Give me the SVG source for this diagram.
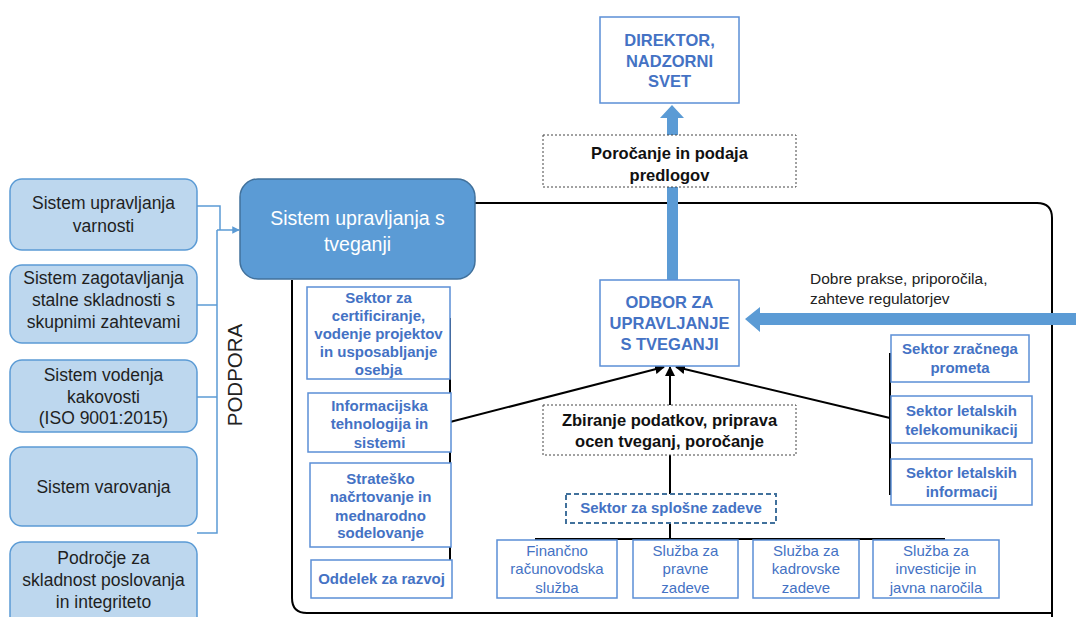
<svg xmlns="http://www.w3.org/2000/svg" width="1076" height="617" viewBox="0 0 1076 617">
<defs>
<style>
.lb{fill:#BDD7EE;stroke:#5B9BD5;stroke-width:1.5}
.lt{font-family:"Liberation Sans",Arial,sans-serif;font-size:17.5px;fill:#1f1f1f;text-anchor:middle}
.sb{fill:#fff;stroke:#5B8FD6;stroke-width:1.5}
.st{font-family:"Liberation Sans",Arial,sans-serif;font-size:15px;font-weight:bold;fill:#4472C4;text-anchor:middle}
.su{font-family:"Liberation Sans",Arial,sans-serif;font-size:15px;fill:#4472C4;text-anchor:middle}
.bt{font-family:"Liberation Sans",Arial,sans-serif;font-size:16.5px;font-weight:bold;fill:#4472C4;text-anchor:middle}
.kt{font-family:"Liberation Sans",Arial,sans-serif;font-size:16.5px;font-weight:bold;fill:#111;text-anchor:middle}
.db{fill:#fff;stroke:#444;stroke-width:1;stroke-dasharray:2 2}
.bl{fill:none;stroke:#000;stroke-width:2}
.cl{fill:none;stroke:#5B9BD5;stroke-width:1.5}
</style>
<marker id="ah" viewBox="0 0 10 10" refX="9" refY="5" markerWidth="5" markerHeight="5" orient="auto"><path d="M0,0 L10,5 L0,10 z" fill="#000"/></marker>
<marker id="ab" viewBox="0 0 10 10" refX="9" refY="5" markerWidth="5" markerHeight="5" orient="auto"><path d="M0,0 L10,5 L0,10 z" fill="#5B9BD5"/></marker>
</defs>

<!-- frame -->
<path id="frame" d="M292,280 L292,598 Q292,613 307,613 L1052,613 M475,203 L1037,203 Q1052,203 1052,218 L1052,617" class="bl"/>

<g id="connectors">
<polyline class="cl" points="197,206 220,206 220,230"/>
<polyline class="cl" points="197,305 217,305"/>
<polyline class="cl" points="197,397 217,397"/>
<polyline class="cl" points="197,533 217,533 217,230"/>
<line class="cl" x1="217" y1="230" x2="239" y2="230" marker-end="url(#ab)"/>
<line class="bl" x1="450" y1="318" x2="450" y2="577"/>
<line class="bl" x1="890" y1="353" x2="890" y2="495"/>
<line class="bl" x1="450" y1="422" x2="664" y2="367" marker-end="url(#ah)"/>
<line class="bl" x1="890" y1="418" x2="676" y2="367" marker-end="url(#ah)"/>
<line class="bl" x1="670" y1="539" x2="670" y2="367" marker-end="url(#ah)"/>
<line class="bl" x1="535" y1="539" x2="945" y2="539"/>
<path d="M667,280 L667,118 L660,118 L672,105 L684,118 L678,118 L678,280 Z" fill="#5B9BD5"/>
<path d="M1076,313 L760,313 L760,307 L745,319 L760,332 L760,325 L1076,325 Z" fill="#5B9BD5"/>
</g>

<text x="242" y="375" transform="rotate(-90 242 375)" style="font-family:'Liberation Sans',Arial,sans-serif;font-size:20.5px;fill:#222;text-anchor:middle">PODPORA</text>

<g id="n-varnost"><rect class="lb" x="10" y="179" width="187" height="71" rx="12"/>
<text class="lt" x="103.5" y="209">Sistem upravljanja</text><text class="lt" x="103.5" y="232">varnosti</text></g>
<g id="n-skladnost"><rect class="lb" x="10" y="265" width="187" height="78" rx="12"/>
<text class="lt" x="103.5" y="284">Sistem zagotavljanja</text><text class="lt" x="103.5" y="306">stalne skladnosti s</text><text class="lt" x="103.5" y="328">skupnimi zahtevami</text></g>
<g id="n-kakovost"><rect class="lb" x="10" y="360" width="187" height="72" rx="12"/>
<text class="lt" x="103.5" y="381">Sistem vodenja</text><text class="lt" x="103.5" y="403">kakovosti</text><text class="lt" x="103.5" y="424">(ISO 9001:2015)</text></g>
<g id="n-varovanje"><rect class="lb" x="10" y="447" width="187" height="79" rx="12"/>
<text class="lt" x="103.5" y="493">Sistem varovanja</text></g>
<g id="n-podrocje"><rect class="lb" x="10" y="542" width="187" height="90" rx="12"/>
<text class="lt" x="103.5" y="564">Področje za</text><text class="lt" x="103.5" y="586">skladnost poslovanja</text><text class="lt" x="103.5" y="608">in integriteto</text></g>

<g id="n-tveganja"><rect x="240" y="179" width="235" height="100" rx="18" fill="#5B9BD5" stroke="#41719C" stroke-width="1.5"/>
<text x="357.5" y="225" style="font-family:'Liberation Sans',Arial,sans-serif;font-size:19.5px;fill:#fff;text-anchor:middle">Sistem upravljanja s</text>
<text x="357.5" y="251" style="font-family:'Liberation Sans',Arial,sans-serif;font-size:19.5px;fill:#fff;text-anchor:middle">tveganji</text></g>

<g id="n-direktor"><rect class="sb" x="600" y="17" width="139" height="86"/>
<text class="bt" x="669.5" y="46">DIREKTOR,</text><text class="bt" x="669.5" y="67">NADZORNI</text><text class="bt" x="669.5" y="87">SVET</text></g>

<g id="n-porocanje"><rect class="db" x="543" y="135" width="253" height="52"/>
<text class="kt" x="669.5" y="159">Poročanje in podaja</text><text class="kt" x="669.5" y="181">predlogov</text></g>

<g id="n-odbor"><rect class="sb" x="600" y="280" width="139" height="86"/>
<text class="bt" x="669.5" y="308">ODBOR ZA</text><text class="bt" x="669.5" y="329">UPRAVLJANJE</text><text class="bt" x="669.5" y="350">S TVEGANJI</text></g>

<g id="n-dobre">
<text x="810" y="284" style="font-family:'Liberation Sans',Arial,sans-serif;font-size:15.5px;fill:#222">Dobre prakse, priporočila,</text>
<text x="810" y="304" style="font-family:'Liberation Sans',Arial,sans-serif;font-size:15.5px;fill:#222">zahteve regulatorjev</text></g>

<g id="n-zbiranje"><rect class="db" x="543" y="405" width="253" height="50"/>
<text class="kt" x="669.5" y="426">Zbiranje podatkov, priprava</text><text class="kt" x="669.5" y="447">ocen tveganj, poročanje</text></g>

<g id="n-certif"><rect class="sb" x="307" y="287" width="143" height="92"/>
<text class="st" x="378.5" y="303">Sektor za</text><text class="st" x="378.5" y="321">certificiranje,</text><text class="st" x="378.5" y="339">vodenje projektov</text><text class="st" x="378.5" y="357">in usposabljanje</text><text class="st" x="378.5" y="375">osebja</text></g>
<g id="n-it"><rect class="sb" x="308" y="393" width="143" height="59"/>
<text class="st" x="379.5" y="411">Informacijska</text><text class="st" x="379.5" y="429">tehnologija in</text><text class="st" x="379.5" y="448">sistemi</text></g>
<g id="n-strat"><rect class="sb" x="310" y="463" width="141" height="84"/>
<text class="st" x="380.5" y="484">Strateško</text><text class="st" x="380.5" y="502">načrtovanje in</text><text class="st" x="380.5" y="521">mednarodno</text><text class="st" x="380.5" y="538">sodelovanje</text></g>
<g id="n-razvoj"><rect class="sb" x="311" y="560" width="141" height="38"/>
<text class="st" x="381.5" y="584">Oddelek za razvoj</text></g>

<g id="n-promet"><rect class="sb" x="891" y="335" width="138" height="47"/>
<text class="st" x="960" y="354">Sektor zračnega</text><text class="st" x="960" y="373">prometa</text></g>
<g id="n-telekom"><rect class="sb" x="891" y="396" width="141" height="47"/>
<text class="st" x="961.5" y="416">Sektor letalskih</text><text class="st" x="961.5" y="435">telekomunikacij</text></g>
<g id="n-inform"><rect class="sb" x="891" y="459" width="141" height="46"/>
<text class="st" x="961.5" y="478">Sektor letalskih</text><text class="st" x="961.5" y="497">informacij</text></g>

<g id="n-splosne"><rect x="566" y="494" width="210" height="29" fill="#fff" stroke="#41719C" stroke-width="2" stroke-dasharray="5 3"/>
<text class="st" x="671" y="513">Sektor za splošne zadeve</text></g>

<g id="n-financ"><rect class="sb" x="497" y="540" width="120" height="58"/>
<text class="su" x="557" y="556">Finančno</text><text class="su" x="557" y="574">računovodska</text><text class="su" x="557" y="593">služba</text></g>
<g id="n-pravne"><rect class="sb" x="633" y="540" width="105" height="58"/>
<text class="su" x="685.5" y="556">Služba za</text><text class="su" x="685.5" y="574">pravne</text><text class="su" x="685.5" y="593">zadeve</text></g>
<g id="n-kadrovske"><rect class="sb" x="753" y="540" width="106" height="58"/>
<text class="su" x="806" y="556">Služba za</text><text class="su" x="806" y="574">kadrovske</text><text class="su" x="806" y="593">zadeve</text></g>
<g id="n-invest"><rect class="sb" x="873" y="540" width="126" height="58"/>
<text class="su" x="936" y="556">Služba za</text><text class="su" x="936" y="574">investicije in</text><text class="su" x="936" y="593">javna naročila</text></g>
</svg>
